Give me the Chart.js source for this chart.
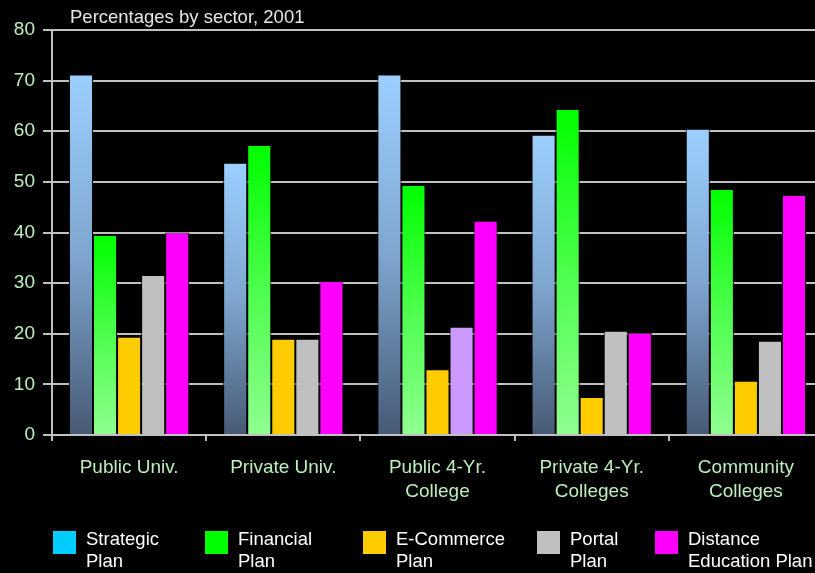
<!DOCTYPE html>
<html lang="en">
<head>
    <meta charset="UTF-8">
    <script src="https://cdn.jsdelivr.net/npm/chart.js@4/dist/chart.umd.min.js"></script>
    <title>Percentages by sector, 2001</title>
    <style>
        html, body { margin: 0; padding: 0; background: #000; overflow: hidden; }
        #wrap { width: 830px; height: 573px; }
    </style>
</head>
<body>
<div id="wrap"><canvas id="myChart" width="830" height="573"></canvas></div>

<script>
    // data
    const chartTitle = 'Percentages by sector, 2001';
    const categories = [['Public Univ.'], ['Private Univ.'], ['Public 4-Yr.', 'College'], ['Private 4-Yr.', 'Colleges'], ['Community', 'Colleges']];
    const seriesNames = ['Strategic Plan', 'Financial Plan', 'E-Commerce Plan', 'Portal Plan', 'Distance Education Plan'];
    const legendLines = [['Strategic', 'Plan'], ['Financial', 'Plan'], ['E-Commerce', 'Plan'], ['Portal', 'Plan'], ['Distance', 'Education Plan']];
    const strategic = [71.2, 53.8, 71.2, 59.3, 60.5];
    const financial = [39.5, 57.3, 49.4, 64.4, 48.6];
    const ecommerce = [19.4, 19.0, 13.0, 7.5, 10.7];
    const portal = [31.6, 19.0, 21.4, 20.6, 18.6];
    const distance = [40.0, 30.4, 42.3, 20.2, 47.4];
    const yTicks = [0, 10, 20, 30, 40, 50, 60, 70, 80];

    const legendColors = ['#00ccff', '#00ff00', '#ffcc00', '#c0c0c0', '#ff00ff'];
    const FONT = "'Liberation Sans', Arial, sans-serif";
    const GRID = '#c0c0c0';
    const TICK_COLOR = '#bdeebd';

    // gradient per bar, light on top, darker/lighter at the base
    function barGradient(stops, fallback) {
        return function (ctx) {
            const chart = ctx.chart;
            const area = chart.chartArea;
            if (!area || ctx.raw == null) return fallback;
            const top = chart.scales.y.getPixelForValue(ctx.raw);
            const g = chart.ctx.createLinearGradient(0, top, 0, area.bottom);
            stops.forEach(s => g.addColorStop(s[0], s[1]));
            return g;
        };
    }

    const strategicFill = barGradient([[0, '#9ccfff'], [0.5, '#7ea6cf'], [1, '#475a75']], '#7ea6cf');
    const financialFill = barGradient([[0, '#00ff00'], [0.5, '#4dff4d'], [1, '#90ff90']], '#4dff4d');
    const portalFill = ['#c0c0c0', '#c0c0c0', '#cc99ff', '#c0c0c0', '#c0c0c0'];

    // title + two-line legend drawn by hand
    const decorations = {
        id: 'decorations',
        afterDraw(chart) {
            const c = chart.ctx;
            c.save();
            c.fillStyle = '#e6e6e6';
            c.font = '18.5px ' + FONT;
            c.textAlign = 'left';
            c.textBaseline = 'alphabetic';
            c.fillText(chartTitle, 70, 22.5);

            const boxX = [53, 205, 363, 537, 655];
            c.font = '18.5px ' + FONT;
            c.textBaseline = 'middle';
            legendLines.forEach((lines, i) => {
                c.fillStyle = legendColors[i];
                c.fillRect(boxX[i], 531, 23, 23);
                c.fillStyle = '#ffffff';
                lines.forEach((t, j) => c.fillText(t, boxX[i] + 33, 540 + j * 22));
            });
            c.restore();
        }
    };

    const series = [strategic, financial, ecommerce, portal, distance];
    const fills = [strategicFill, financialFill, '#ffcc00', portalFill, '#ff00ff'];

    const ctx = document.getElementById('myChart').getContext('2d');
    const myChart = new Chart(ctx, {
        type: 'bar',
        data: {
            labels: categories,
            datasets: series.map((d, i) => ({
                label: seriesNames[i],
                data: d,
                backgroundColor: fills[i],
                borderColor: '#000',
                borderWidth: 1,
                borderSkipped: 'bottom',
                barPercentage: 1,
                categoryPercentage: 0.78
            }))
        },
        options: {
            responsive: false,
            animation: false,
            layout: { padding: { top: 30, right: 7, left: 0, bottom: 0 } },
            plugins: {
                legend: { display: false },
                title: { display: false },
                tooltip: { enabled: false }
            },
            scales: {
                x: {
                    z: 1,
                    grid: { display: true, drawOnChartArea: false, color: GRID, lineWidth: 2, tickLength: 6, offset: true },
                    border: { display: true, color: GRID, width: 2 },
                    ticks: {
                        color: TICK_COLOR,
                        padding: 15,
                        maxRotation: 0,
                        autoSkip: false,
                        font: { family: FONT, size: 19, lineHeight: 1.27 }
                    },
                    afterFit(scale) { scale.height = 138; }
                },
                y: {
                    min: 0,
                    max: 80,
                    afterBuildTicks(scale) { scale.ticks = yTicks.map(v => ({ value: v })); },
                    grid: { color: GRID, lineWidth: 2, tickLength: 9 },
                    border: { display: true, color: GRID, width: 2 },
                    ticks: {
                        color: TICK_COLOR,
                        padding: 8,
                        font: { family: FONT, size: 19 }
                    },
                    afterFit(scale) { scale.width = 52; }
                }
            }
        },
        plugins: [decorations]
    });
</script>
</body>
</html>
